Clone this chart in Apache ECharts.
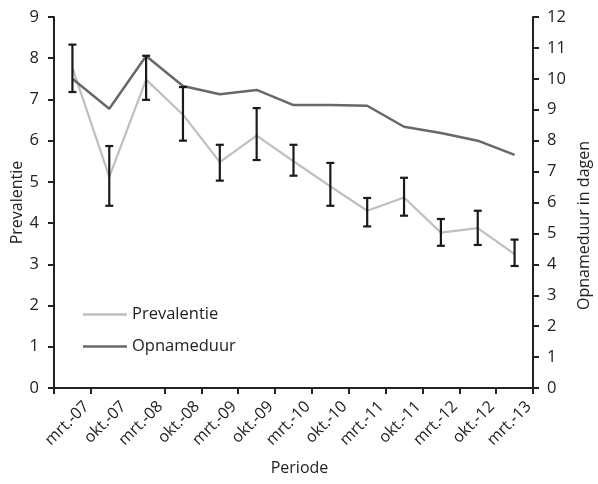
<!DOCTYPE html>
<html>
<head>
<meta charset="utf-8">
<script src="https://cdn.jsdelivr.net/npm/echarts@6/dist/echarts.min.js"></script>
<style>html,body{margin:0;padding:0;background:#fff}#c{width:598px;height:484px}</style>
</head>
<body>
<div id="c"></div>
<script>
const categories = ['mrt.-07','okt.-07','mrt.-08','okt.-08','mrt.-09','okt.-09','mrt.-10','okt.-10','mrt.-11','okt.-11','mrt.-12','okt.-12','mrt.-13'];
const prevalentie = [7.77, 5.12, 7.48, 6.63, 5.48, 6.12, 5.5, 4.89, 4.3, 4.62, 3.77, 3.88, 3.25];
const prevLow  = [7.18, 4.42, 6.99, 6.0, 5.03, 5.53, 5.15, 4.42, 3.92, 4.18, 3.45, 3.47, 2.96];
const prevHigh = [8.33, 5.87, 8.06, 7.30, 5.9, 6.79, 5.9, 5.46, 4.61, 5.1, 4.1, 4.3, 3.6];
const opnameduur = [10.0, 9.03, 10.74, 9.77, 9.5, 9.64, 9.15, 9.15, 9.13, 8.45, 8.25, 8.0, 7.54];
const leftTicks = [0,1,2,3,4,5,6,7,8,9];
const rightTicks = [0,1,2,3,4,5,6,7,8,9,10,11,12];

const FONT = 'Open Sans';
const TXT = '#222';
const chart = echarts.init(document.getElementById('c'));
const errData = categories.map((c, i) => [i, prevLow[i], prevHigh[i]]);
chart.setOption({
  animation: false,
  textStyle: {fontFamily: FONT, color: TXT},
  grid: {left: 54, right: 65, top: 17, bottom: 96, containLabel: false, outerBoundsMode: 'none'},
  legend: {
    orient: 'vertical', left: 78, top: 301,
    icon: 'rect', itemWidth: 44, itemHeight: 2.5, itemGap: 15,
    textStyle: {fontFamily: FONT, fontSize: 16.5, color: TXT},
    data: ['Prevalentie', 'Opnameduur']
  },
  xAxis: {
    type: 'category', data: categories, boundaryGap: true,
    name: 'Periode', nameLocation: 'middle', nameGap: 72, nameMoveOverlap: false,
    nameTextStyle: {fontFamily: FONT, fontSize: 16, color: TXT, padding: [0, 0, 0, 12]},
    axisLine: {lineStyle: {color: '#222', width: 2}},
    axisTick: {show: true, length: 6, lineStyle: {color: '#222', width: 2},
      interval: function (idx) { return idx !== 2; }},
    axisLabel: {rotate: 45, fontFamily: FONT, fontSize: 16, color: TXT, margin: 2,
      verticalAlign: 'top', padding: [12, 0, 0, 0], interval: 0}
  },
  yAxis: [{
    type: 'value', min: 0, max: 9, interval: 1,
    name: 'Prevalentie', nameLocation: 'middle', nameGap: 29, nameRotate: 90, nameMoveOverlap: false,
    nameTextStyle: {fontFamily: FONT, fontSize: 16, color: TXT},
    axisLine: {show: true, lineStyle: {color: '#222', width: 2}},
    axisTick: {show: true, length: 6, lineStyle: {color: '#222', width: 2}},
    axisLabel: {fontFamily: FONT, fontSize: 16.5, color: TXT, margin: 15,
      formatter: v => leftTicks.includes(v) ? String(v) : ''},
    splitLine: {show: false}
  }, {
    type: 'value', min: 0, max: 12, interval: 1, position: 'right',
    name: 'Opnameduur in dagen', nameLocation: 'middle', nameGap: 41, nameRotate: 90,
    nameTextStyle: {fontFamily: FONT, fontSize: 16, color: TXT, padding: [0, 46, 0, 0]},
    axisLine: {show: true, lineStyle: {color: '#222', width: 2}},
    axisTick: {show: true, length: 6, lineStyle: {color: '#222', width: 2}},
    axisLabel: {fontFamily: FONT, fontSize: 16.5, color: TXT, margin: 14,
      formatter: v => rightTicks.includes(v) ? String(v) : ''},
    splitLine: {show: false}
  }],
  series: [{
    name: 'Prevalentie', type: 'line', yAxisIndex: 0, data: prevalentie,
    symbol: 'none', lineStyle: {color: '#bfbfbf', width: 2.2}, itemStyle: {color: '#bfbfbf'}, z: 2
  }, {
    name: 'Opnameduur', type: 'line', yAxisIndex: 1, data: opnameduur,
    symbol: 'none', lineStyle: {color: '#686868', width: 2.5}, itemStyle: {color: '#686868'}, z: 2
  }, {
    name: 'err', type: 'custom', yAxisIndex: 0, data: errData, z: 3,
    renderItem: function (params, api) {
      const x = api.value(0);
      const lo = api.coord([x, api.value(1)]);
      const hi = api.coord([x, api.value(2)]);
      const w = 4;
      const style = {stroke: '#1a1a1a', lineWidth: 2.2};
      return {type: 'group', children: [
        {type: 'line', shape: {x1: lo[0], y1: lo[1], x2: hi[0], y2: hi[1]}, style},
        {type: 'line', shape: {x1: lo[0]-w, y1: lo[1], x2: lo[0]+w, y2: lo[1]}, style},
        {type: 'line', shape: {x1: hi[0]-w, y1: hi[1], x2: hi[0]+w, y2: hi[1]}, style}
      ]};
    }
  }]
});
</script>
</body>
</html>
